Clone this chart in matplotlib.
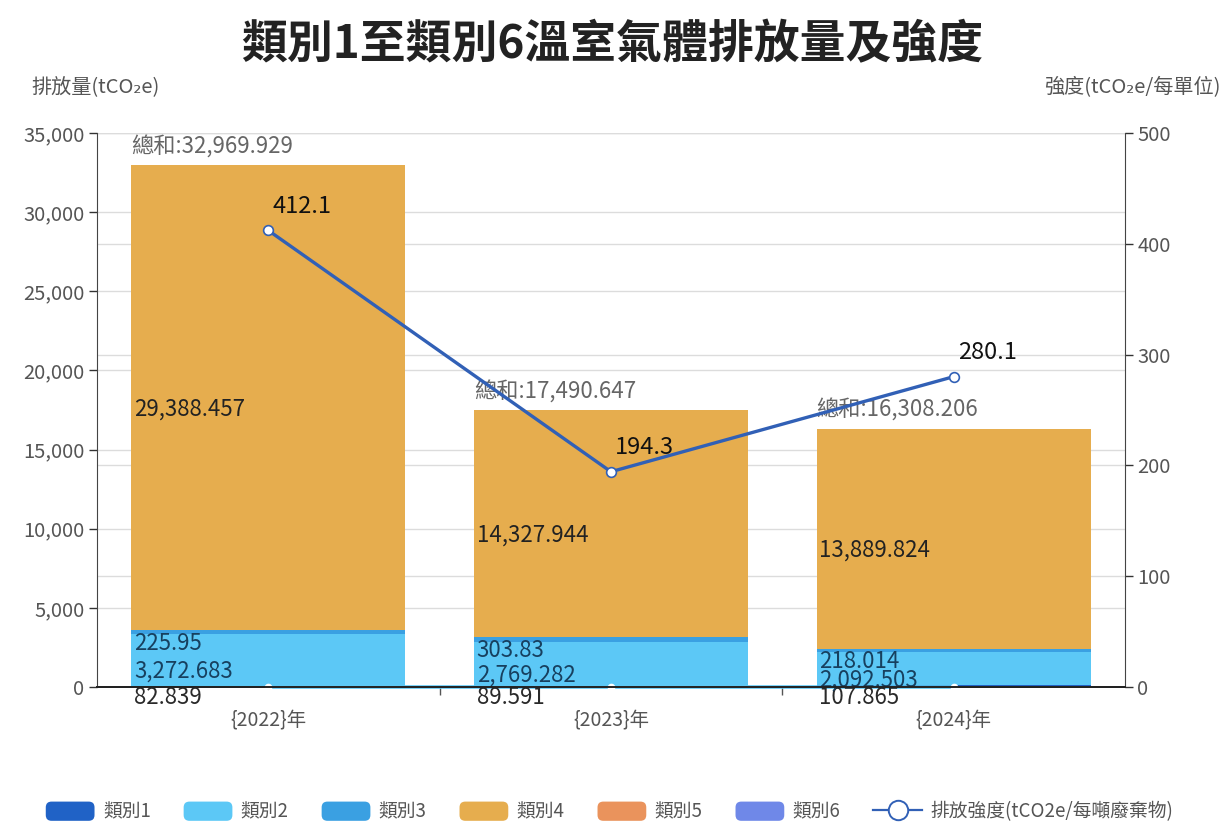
import numpy as np
import matplotlib
matplotlib.use("Agg")
import matplotlib.pyplot as plt
from matplotlib.patches import Patch, FancyBboxPatch
from matplotlib.lines import Line2D
from matplotlib.legend_handler import HandlerPatch
from matplotlib.transforms import blended_transform_factory
from matplotlib.ticker import FuncFormatter

plt.rcParams['font.family'] = ['Noto Sans CJK TC', 'DejaVu Sans']

# ---- data ----
years = ["{2022}年", "{2023}年", "{2024}年"]
category1 = [82.839, 89.591, 107.865]
category2 = [3272.683, 2769.282, 2092.503]
category3 = [225.95, 303.83, 218.014]
category4 = [29388.457, 14327.944, 13889.824]
category5 = [0.0, 0.0, 0.0]
category6 = [0.0, 0.0, 0.0]
intensity = [412.1, 194.3, 280.1]

series_names = ["類別1", "類別2", "類別3", "類別4", "類別5", "類別6"]
line_name = "排放強度(tCO2e/每噸廢棄物)"
title = "類別1至類別6溫室氣體排放量及強度"
left_label = "排放量(tCO₂e)"
right_label = "強度(tCO₂e/每單位)"

# ---- styling ----
colors = ["#2062c6", "#5cc8f6", "#3aa0e2", "#e6ad4e", "#ea935c", "#6f88e8"]
label_colors = ["#2a2a2a", "#17405f", "#17405f", "#222222", "#222222", "#222222"]
line_color = "#3160b6"
text_gray = "#555555"
grid_color = "#dcdcdc"

fig = plt.figure(figsize=(12.24, 8.32), dpi=100)
ax = fig.add_axes([0.0792, 0.1743, 0.8399, 0.6658])
ax2 = ax.twinx()

x = np.arange(len(years))
bar_w = 0.8
series = [category1, category2, category3, category4, category5, category6]


def fmt_value(v):
    s = f"{v:,.3f}"
    return s.rstrip("0").rstrip(".")


bottom = np.zeros(len(years))
for name, vals, col, lcol in zip(series_names, series, colors, label_colors):
    vals = np.asarray(vals, dtype=float)
    ax.bar(x, vals, bar_w, bottom=bottom, color=col, label=name, zorder=2,
           linewidth=0)
    for xi, b, v in zip(x, bottom, vals):
        if v > 0:
            ax.annotate(fmt_value(v), xy=(xi - bar_w / 2, b + v / 2),
                        xytext=(2, -8), textcoords="offset points",
                        ha="left", va="center", fontsize=16, color=lcol,
                        zorder=5)
    bottom = bottom + vals

# totals above each bar
for xi, tot in zip(x, bottom):
    ax.annotate(f"總和:{tot:,.3f}", xy=(xi - bar_w / 2, tot),
                xytext=(0, 5), textcoords="offset points",
                ha="left", va="bottom", fontsize=16, color="#666666", zorder=5)

# zero-value series running along the baseline
ax.plot(x, category5, color="#5cc8f6", lw=2.6, marker="o", ms=4.5,
        mfc="white", mec="white", zorder=4, clip_on=False)

# axes ranges / ticks
ax.set_xlim(-0.5, len(years) - 0.5)
ax.set_ylim(0, 35000)
ax.set_yticks(np.arange(0, 35001, 5000))
ax.yaxis.set_major_formatter(FuncFormatter(lambda v, p: f"{v:,.0f}"))
ax2.set_ylim(0, 500)
ax2.set_yticks(np.arange(0, 501, 100))

ax.set_xticks(x)
ax.set_xticklabels(years)
ax.set_xticks(np.arange(0.5, len(years) - 0.5, 1.0), minor=True)
ax.tick_params(axis="x", which="major", length=0, pad=16, labelsize=14,
               labelcolor=text_gray)
ax.tick_params(axis="x", which="minor", length=6, width=1, color="#555555")
ax.tick_params(axis="y", length=6, width=1, color="#333333", labelsize=14.5,
               labelcolor=text_gray, pad=3)
ax2.tick_params(axis="y", length=6, width=1, color="#333333", labelsize=14.5,
                labelcolor=text_gray, pad=3)

# gridlines for both scales, kept beneath the bars
ax.set_axisbelow(True)
ax.yaxis.grid(True, color=grid_color, lw=1, zorder=0)
right_tr = blended_transform_factory(ax.transAxes, ax2.transData)
for v in ax2.get_yticks():
    ax.plot([0, 1], [v, v], transform=right_tr, color=grid_color, lw=1,
            zorder=0.5)

for a in (ax, ax2):
    a.spines["top"].set_visible(False)
    a.spines["left"].set_color("#444444")
    a.spines["right"].set_color("#444444")
    a.spines["bottom"].set_color("#222222")
    a.spines["bottom"].set_linewidth(1.4)
ax2.spines["left"].set_visible(False)
ax.spines["right"].set_visible(False)

# intensity line
ax2.plot(x, intensity, color=line_color, lw=2.4, marker="o", ms=7,
         mfc="white", mec=line_color, mew=1.2, zorder=6, label=line_name)
for xi, v in zip(x, intensity):
    ax2.annotate(f"{v:.1f}", xy=(xi, v), xytext=(3, 9),
                 textcoords="offset points", ha="left", va="bottom",
                 fontsize=17, color="#111111", zorder=7)

# title and axis names
fig.text(0.5, 0.946, title, ha="center", va="center", fontsize=33,
         fontweight="bold", color="#222222")
fig.text(0.078, 0.895, left_label, ha="center", va="center", fontsize=14.5,
         color=text_gray)
fig.text(0.997, 0.895, right_label, ha="right", va="center", fontsize=14.5,
         color=text_gray)


# legend with rounded swatches
class RoundedSwatch(HandlerPatch):
    def create_artists(self, legend, orig_handle, xdescent, ydescent,
                       width, height, fontsize, trans):
        p = FancyBboxPatch((-xdescent, -ydescent), width, height,
                           boxstyle=f"round,pad=0,rounding_size={height * 0.3}",
                           facecolor=orig_handle.get_facecolor(),
                           edgecolor="none", transform=trans)
        return [p]


handles = [Patch(facecolor=c, label=n) for c, n in zip(colors, series_names)]
handles.append(Line2D([], [], color=line_color, lw=1.6, marker="o", ms=14,
                      mfc="white", mec=line_color, mew=1.4, label=line_name))
fig.legend(handles=handles, loc="center", bbox_to_anchor=(0.498, 0.024),
           ncol=7, frameon=False, fontsize=13.5, labelcolor=text_gray,
           handlelength=2.6, handleheight=1.2, handletextpad=0.45,
           columnspacing=1.75,
           handler_map={Patch: RoundedSwatch()})

fig.savefig("out.png", dpi=100)
